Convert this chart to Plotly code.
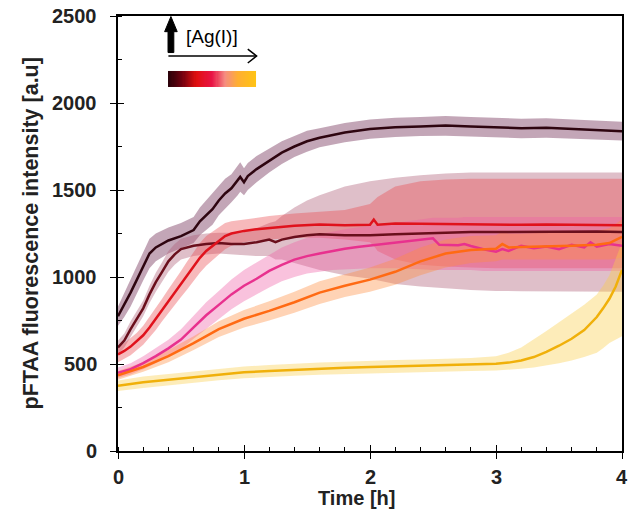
import plotly.graph_objects as go
import numpy as np

# ---------------- data ----------------
T1 = [0, 0.05, 0.1, 0.15, 0.2, 0.25, 0.3, 0.4, 0.5, 0.6, 0.65, 0.7, 0.75, 0.8, 0.85, 0.9, 0.95, 0.97, 1.0, 1.03, 1.1, 1.2, 1.3, 1.4, 1.5, 1.6, 1.8, 2.0, 2.2, 2.4, 2.6, 2.8, 3.0, 3.2, 3.4, 3.6, 3.8, 4.0]
Y1 = [775, 840, 910, 985, 1065, 1135, 1170, 1210, 1235, 1270, 1320, 1355, 1390, 1440, 1480, 1510, 1555, 1575, 1545, 1580, 1620, 1670, 1715, 1750, 1780, 1800, 1830, 1850, 1860, 1865, 1870, 1865, 1860, 1855, 1858, 1850, 1845, 1838]
LO1 = [720, 770, 830, 900, 980, 1050, 1090, 1135, 1165, 1195, 1240, 1270, 1300, 1355, 1395, 1430, 1470, 1490, 1470, 1500, 1545, 1600, 1650, 1690, 1720, 1745, 1775, 1795, 1805, 1810, 1812, 1808, 1803, 1798, 1800, 1795, 1790, 1785]
HI1 = [830, 910, 990, 1070, 1150, 1220, 1250, 1285, 1310, 1345, 1400, 1440, 1480, 1525, 1565, 1590, 1640, 1660, 1625, 1655, 1695, 1740, 1780, 1810, 1840, 1855, 1885, 1905, 1915, 1920, 1925, 1920, 1915, 1910, 1912, 1905, 1900, 1892]

T2 = [0, 0.05, 0.1, 0.15, 0.2, 0.25, 0.3, 0.35, 0.4, 0.45, 0.5, 0.6, 0.7, 0.8, 0.9, 1.0, 1.1, 1.2, 1.25, 1.3, 1.4, 1.5, 1.6, 1.8, 2.0, 2.2, 2.4, 2.6, 2.8, 3.0, 3.2, 3.4, 3.6, 3.8, 4.0]
Y2 = [595, 635, 700, 760, 820, 900, 970, 1030, 1090, 1130, 1160, 1180, 1190, 1195, 1190, 1190, 1200, 1215, 1200, 1215, 1230, 1240, 1245, 1240, 1240, 1245, 1250, 1255, 1258, 1258, 1260, 1262, 1262, 1262, 1258]
LO2 = [555, 595, 655, 715, 775, 850, 915, 975, 1030, 1070, 1100, 1120, 1130, 1135, 1130, 1125, 1120, 1120, 1100, 1100, 1080, 1060, 1040, 1010, 990, 960, 945, 935, 925, 920, 918, 915, 915, 915, 915]
HI2 = [635, 675, 745, 805, 865, 950, 1025, 1085, 1150, 1190, 1220, 1240, 1250, 1255, 1255, 1260, 1280, 1310, 1320, 1350, 1400, 1440, 1470, 1520, 1550, 1570, 1585, 1595, 1600, 1600, 1600, 1600, 1600, 1600, 1600]

T3 = [0, 0.05, 0.1, 0.15, 0.2, 0.25, 0.3, 0.35, 0.4, 0.45, 0.5, 0.55, 0.6, 0.65, 0.7, 0.75, 0.8, 0.85, 0.9, 1.0, 1.1, 1.2, 1.4, 1.6, 1.8, 2.0, 2.03, 2.06, 2.2, 2.4, 2.6, 2.8, 3.0, 3.2, 3.4, 3.6, 3.8, 4.0]
Y3 = [555, 575, 600, 630, 665, 710, 760, 810, 860, 910, 960, 1010, 1060, 1110, 1150, 1180, 1210, 1235, 1250, 1265, 1275, 1283, 1295, 1302, 1298, 1300, 1330, 1300, 1308, 1306, 1304, 1302, 1304, 1300, 1302, 1300, 1300, 1298]
LO3 = [510, 530, 550, 580, 610, 650, 695, 745, 790, 840, 885, 930, 975, 1025, 1065, 1100, 1130, 1160, 1180, 1200, 1210, 1215, 1225, 1225, 1215, 1200, 1180, 1150, 1100, 1070, 1060, 1055, 1050, 1050, 1050, 1050, 1050, 1050]
HI3 = [600, 620, 650, 680, 720, 770, 825, 875, 930, 980, 1035, 1090, 1145, 1195, 1235, 1260, 1290, 1310, 1320, 1330, 1340, 1350, 1365, 1375, 1385, 1420, 1440, 1460, 1520, 1550, 1560, 1565, 1565, 1565, 1565, 1565, 1565, 1565]

T4 = [0, 0.1, 0.2, 0.3, 0.4, 0.5, 0.6, 0.7, 0.8, 0.9, 1.0, 1.1, 1.2, 1.3, 1.4, 1.5, 1.6, 1.7, 1.8, 1.9, 2.0, 2.2, 2.4, 2.5, 2.55, 2.7, 2.75, 2.8, 2.9, 3.0, 3.05, 3.1, 3.2, 3.3, 3.4, 3.5, 3.6, 3.7, 3.75, 3.8, 3.9, 4.0]
Y4 = [450, 470, 505, 545, 590, 640, 710, 780, 840, 900, 950, 990, 1035, 1070, 1100, 1120, 1135, 1150, 1162, 1172, 1180, 1195, 1215, 1222, 1185, 1182, 1190, 1178, 1160, 1145, 1160, 1150, 1180, 1165, 1175, 1160, 1185, 1170, 1200, 1175, 1190, 1180]
LO4 = [420, 440, 470, 505, 545, 585, 645, 705, 760, 815, 860, 900, 940, 975, 1000, 1020, 1030, 1040, 1045, 1048, 1050, 1050, 1045, 1040, 1040, 1040, 1040, 1040, 1035, 1035, 1035, 1035, 1035, 1035, 1035, 1035, 1035, 1035, 1035, 1035, 1035, 1035]
HI4 = [480, 505, 545, 590, 640, 700, 775, 855, 920, 985, 1040, 1085, 1130, 1170, 1200, 1225, 1245, 1260, 1275, 1285, 1295, 1310, 1330, 1340, 1340, 1340, 1345, 1345, 1345, 1345, 1345, 1345, 1345, 1345, 1345, 1345, 1345, 1345, 1345, 1345, 1345, 1345]

T5 = [0, 0.2, 0.4, 0.6, 0.8, 1.0, 1.2, 1.4, 1.6, 1.8, 2.0, 2.2, 2.4, 2.6, 2.8, 3.0, 3.05, 3.1, 3.2, 3.4, 3.6, 3.8, 3.9, 4.0]
Y5 = [435, 483, 545, 620, 700, 760, 805, 855, 910, 950, 985, 1030, 1090, 1135, 1155, 1162, 1190, 1170, 1172, 1178, 1180, 1185, 1195, 1230]
LO5 = [410, 455, 510, 580, 655, 710, 750, 795, 845, 885, 915, 955, 1010, 1055, 1080, 1090, 1100, 1100, 1100, 1100, 1100, 1100, 1100, 1110]
HI5 = [460, 510, 580, 660, 745, 810, 860, 915, 975, 1015, 1055, 1105, 1170, 1215, 1235, 1240, 1260, 1250, 1250, 1255, 1260, 1265, 1280, 1330]

T6 = [0, 0.2, 0.4, 0.6, 0.8, 1.0, 1.2, 1.4, 1.6, 1.8, 2.0, 2.2, 2.4, 2.6, 2.8, 3.0, 3.1, 3.2, 3.3, 3.4, 3.5, 3.6, 3.7, 3.8, 3.85, 3.9, 3.95, 4.0]
Y6 = [375, 395, 410, 425, 440, 452, 460, 467, 473, 478, 483, 487, 490, 493, 497, 502, 508, 520, 540, 570, 605, 645, 695, 770, 820, 875, 945, 1040]
LO6 = [345, 362, 378, 392, 406, 418, 426, 432, 438, 443, 447, 451, 454, 457, 460, 463, 466, 472, 480, 492, 505, 520, 540, 565, 590, 620, 640, 660]
HI6 = [405, 428, 443, 458, 474, 486, 494, 502, 508, 513, 519, 523, 526, 530, 535, 545, 565, 595, 640, 690, 740, 790, 840, 900, 950, 1010, 1100, 1200]

LINE_COLORS = ["#2e0510", "#6a0f1c", "#e0121c", "#e8318e", "#ff6a13", "#f0b00a"]
BAND_COLORS = ["rgba(130,70,105,0.48)", "rgba(175,95,120,0.40)", "rgba(235,70,75,0.38)",
               "rgba(240,95,165,0.38)", "rgba(255,140,60,0.38)", "rgba(250,205,70,0.38)"]

SERIES = [(T1, Y1, LO1, HI1), (T2, Y2, LO2, HI2), (T3, Y3, LO3, HI3),
          (T4, Y4, LO4, HI4), (T5, Y5, LO5, HI5), (T6, Y6, LO6, HI6)]

GRAD_COLORSCALE = [[0.0, "rgb(40,0,8)"], [0.15, "rgb(110,0,15)"], [0.32, "rgb(225,15,15)"],
                   [0.5, "rgb(232,20,70)"], [0.65, "rgb(245,140,130)"], [0.8, "rgb(255,175,50)"],
                   [1.0, "rgb(255,195,20)"]]

X_TICKS = [0, 1, 2, 3, 4]
Y_TICKS = [0, 500, 1000, 1500, 2000, 2500]

FONT = "Arial, Liberation Sans, sans-serif"

fig = go.Figure()

# ---- key gradient bar (heatmap in data coordinates) ----
gx0, gx1, gy0, gy1 = 0.397, 1.095, 2092, 2184
NG = 80
gx = list(np.linspace(gx0, gx1, NG + 1))
fig.add_trace(go.Heatmap(x=gx, y=[gy0, gy1], z=[list(np.linspace(0, 1, NG))],
                         colorscale=GRAD_COLORSCALE, showscale=False, zmin=0, zmax=1,
                         hoverinfo="skip"))

# bands
for (t, y, lo, hi), bc in zip(SERIES, BAND_COLORS):
    fig.add_trace(go.Scatter(x=list(t) + list(t)[::-1], y=list(hi) + list(lo)[::-1],
                             fill="toself", fillcolor=bc, line=dict(width=0),
                             mode="lines", hoverinfo="skip", showlegend=False))
# lines
for (t, y, lo, hi), lc in zip(SERIES, LINE_COLORS):
    fig.add_trace(go.Scatter(x=t, y=y, mode="lines", line=dict(color=lc, width=2.5),
                             showlegend=False))

# dummy trace for overlay axes (inside major ticks)
fig.add_trace(go.Scatter(x=[0], y=[0], xaxis="x2", yaxis="y2", mode="markers",
                         marker=dict(opacity=0), showlegend=False, hoverinfo="skip"))

shapes = []
# horizontal arrow
shapes.append(dict(type="line", xref="x", yref="y", x0=0.40, x1=1.10, y0=2270, y1=2270,
                   line=dict(color="black", width=1.5), layer="above"))
shapes.append(dict(type="path", xref="x", yref="y",
                   path="M 1.03 2310 L 1.10 2270 L 1.03 2230",
                   line=dict(color="black", width=1.5), layer="above"))
# up thick arrow
shapes.append(dict(type="path", xref="x", yref="y",
                   path="M 0.397 2290 L 0.397 2410 L 0.37 2410 L 0.42 2497 L 0.47 2410 L 0.443 2410 L 0.443 2290 Z",
                   fillcolor="black", line=dict(color="black", width=1), layer="above"))
fig.update_layout(shapes=shapes)

fig.add_annotation(x=0.52, y=2380, xref="x", yref="y", text="[Ag(I)]", showarrow=False,
                   xanchor="left", yanchor="middle", font=dict(family=FONT, size=19, color="black"))

axis_common = dict(showline=True, linecolor="black", linewidth=1.5, mirror=True,
                   showgrid=False, zeroline=False, automargin=False,
                   showticklabels=False,
                   ticks="outside", ticklen=6, tickwidth=1.2, tickcolor="black")

fig.update_layout(
    width=628, height=513,
    margin=dict(l=118, r=6, t=16, b=62),
    plot_bgcolor="white", paper_bgcolor="white",
    xaxis=dict(range=[0, 4], dtick=1, tick0=0,
               minor=dict(dtick=0.2, ticks="inside", ticklen=4, tickcolor="black", tickwidth=1),
               **axis_common),
    yaxis=dict(range=[0, 2500], dtick=500, tick0=0,
               minor=dict(dtick=250, ticks="inside", ticklen=4, tickcolor="black", tickwidth=1),
               **axis_common),
    xaxis2=dict(range=[0, 4], dtick=1, overlaying="x", ticks="inside", ticklen=6, tickwidth=1.2,
                tickcolor="black", showticklabels=False, showgrid=False, zeroline=False, anchor="y",
                automargin=False),
    yaxis2=dict(range=[0, 2500], dtick=500, overlaying="y", ticks="inside", ticklen=6, tickwidth=1.2,
                tickcolor="black", showticklabels=False, showgrid=False, zeroline=False, anchor="x",
                side="left", automargin=False),
)

tick_font = dict(family=FONT, size=20, color="#222", weight="bold")
# tick labels as annotations anchored on the axis values
for v in X_TICKS:
    fig.add_annotation(x=v, y=0, xref="x", yref="paper", yshift=-26, text=str(v),
                       showarrow=False, xanchor="center", yanchor="middle", font=tick_font)
for v in Y_TICKS:
    fig.add_annotation(x=0, y=v, xref="paper", yref="y", xshift=-19, text=str(v),
                       showarrow=False, xanchor="right", yanchor="middle", font=tick_font)

# axis titles
fig.add_annotation(x=1.89, y=0, xref="x", yref="paper", yshift=-47, text="Time [h]",
                   showarrow=False, xanchor="center", yanchor="middle",
                   font=dict(family=FONT, size=20, color="#222", weight="bold"))
fig.add_annotation(x=0, y=0.5, xref="paper", yref="paper", xshift=-88,
                   text="pFTAA fluorescence intensity [a.u]", textangle=-90,
                   showarrow=False, xanchor="center", yanchor="middle",
                   font=dict(family=FONT, size=21.5, color="#222", weight="bold"))

fig.write_html("out.html")
